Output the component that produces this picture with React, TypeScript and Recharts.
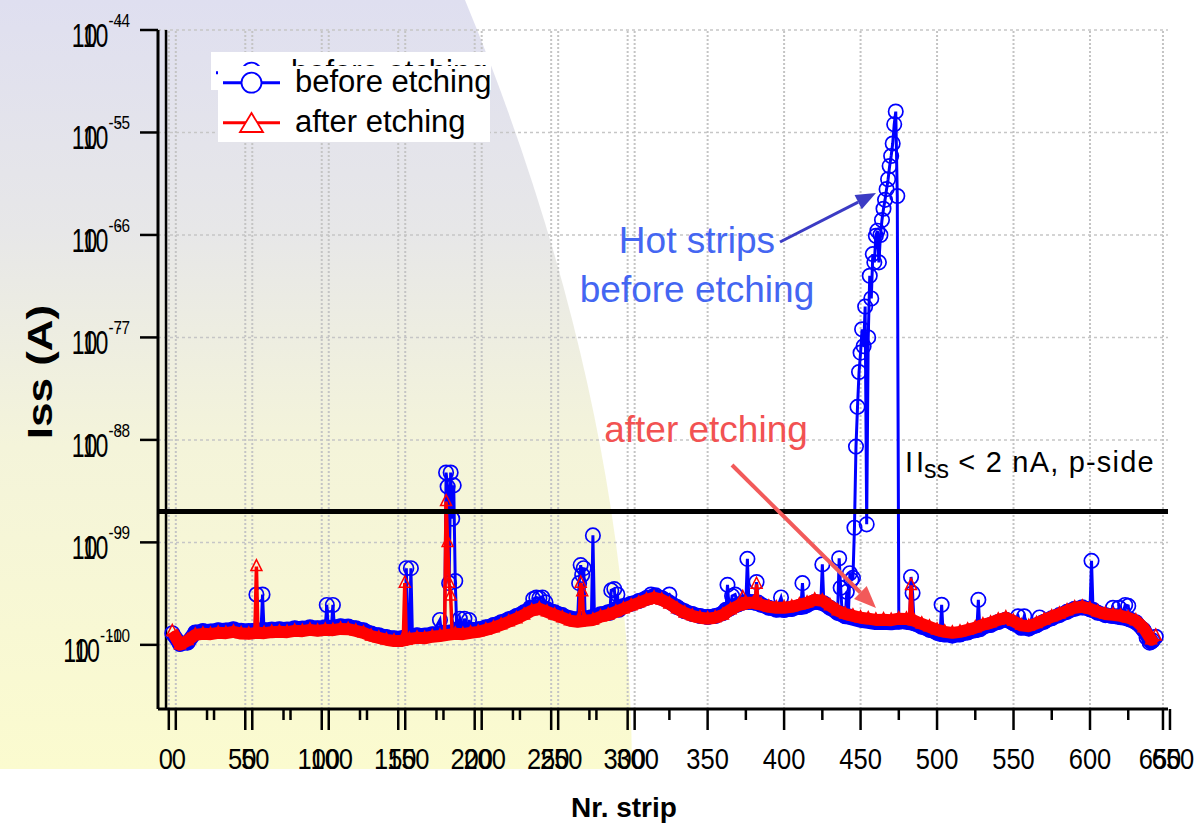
import React from "react";
import { ComposedChart, Line, XAxis, YAxis, CartesianGrid, ReferenceLine } from "recharts";

// ---------- data ----------
const gridStrips = [
  0, 5, 10, 15, 20, 25, 30, 35, 40, 45, 50, 55, 60, 65, 70, 75, 80, 85, 90, 95,
  100, 105, 110, 115, 120, 125, 130, 135, 140, 145, 150, 155, 160, 165, 170, 175, 180, 185, 190, 195,
  200, 205, 210, 215, 220, 225, 230, 235, 240, 245, 250, 255, 260, 265, 270, 275, 280, 285, 290, 295,
  300, 305, 310, 315, 320, 325, 330, 335, 340, 345, 350, 355, 360, 365, 370, 375, 380, 385, 390, 395,
  400, 405, 410, 415, 420, 425, 430, 435, 440, 445, 450, 455, 460, 465, 470, 475, 480, 485, 490, 495,
  500, 505, 510, 515, 520, 525, 530, 535, 540, 545, 550, 555, 560, 565, 570, 575, 580, 585, 590, 595,
  600, 605, 610, 615, 620, 625, 630, 635, 640, 643,
];

// baseline of "after etching" (A)
const afterBase = [
  1.35e-10, 1.0e-10, 1.1e-10, 1.25e-10, 1.28e-10, 1.27e-10, 1.31e-10, 1.3e-10, 1.34e-10, 1.29e-10,
  1.28e-10, 1.31e-10, 1.3e-10, 1.33e-10, 1.34e-10, 1.33e-10, 1.37e-10, 1.36e-10, 1.4e-10, 1.37e-10,
  1.4e-10, 1.39e-10, 1.43e-10, 1.42e-10, 1.37e-10, 1.31e-10, 1.22e-10, 1.17e-10, 1.12e-10, 1.09e-10,
  1.09e-10, 1.14e-10, 1.17e-10, 1.16e-10, 1.2e-10, 1.22e-10, 1.25e-10, 1.28e-10, 1.27e-10, 1.31e-10,
  1.34e-10, 1.4e-10, 1.47e-10, 1.57e-10, 1.68e-10, 1.8e-10, 1.96e-10, 2.15e-10, 2.25e-10, 2.1e-10,
  1.96e-10, 1.84e-10, 1.72e-10, 1.68e-10, 1.72e-10, 1.75e-10, 1.88e-10, 1.96e-10, 2.1e-10, 2.25e-10,
  2.41e-10, 2.57e-10, 2.75e-10, 2.88e-10, 2.75e-10, 2.51e-10, 2.25e-10, 2.05e-10, 1.92e-10, 1.84e-10,
  1.8e-10, 1.84e-10, 1.96e-10, 2.2e-10, 2.41e-10, 2.57e-10, 2.57e-10, 2.46e-10, 2.35e-10, 2.3e-10,
  2.3e-10, 2.35e-10, 2.46e-10, 2.57e-10, 2.75e-10, 2.69e-10, 2.41e-10, 2.15e-10, 2.0e-10, 1.92e-10,
  1.84e-10, 1.8e-10, 1.75e-10, 1.76e-10, 1.74e-10, 1.8e-10, 1.79e-10, 1.72e-10, 1.6e-10, 1.5e-10,
  1.4e-10, 1.34e-10, 1.31e-10, 1.34e-10, 1.4e-10, 1.47e-10, 1.57e-10, 1.64e-10, 1.75e-10, 1.84e-10,
  1.7e-10, 1.55e-10, 1.52e-10, 1.62e-10, 1.75e-10, 1.88e-10, 2.0e-10, 2.15e-10, 2.3e-10, 2.35e-10,
  2.25e-10, 2.1e-10, 2.0e-10, 1.96e-10, 1.92e-10, 1.84e-10, 1.72e-10, 1.47e-10, 1.12e-10, 1.22e-10,
];

// baseline of "before etching" (A)
const beforeBase = [
  1.3e-10, 1.02e-10, 1.05e-10, 1.32e-10, 1.36e-10, 1.35e-10, 1.39e-10, 1.38e-10, 1.42e-10, 1.37e-10,
  1.36e-10, 1.39e-10, 1.38e-10, 1.41e-10, 1.42e-10, 1.41e-10, 1.45e-10, 1.44e-10, 1.48e-10, 1.45e-10,
  1.48e-10, 1.47e-10, 1.52e-10, 1.51e-10, 1.45e-10, 1.39e-10, 1.29e-10, 1.24e-10, 1.19e-10, 1.16e-10,
  1.16e-10, 1.21e-10, 1.24e-10, 1.23e-10, 1.27e-10, 1.29e-10, 1.32e-10, 1.36e-10, 1.35e-10, 1.39e-10,
  1.42e-10, 1.48e-10, 1.56e-10, 1.66e-10, 1.78e-10, 1.91e-10, 2.08e-10, 2.28e-10, 2.38e-10, 2.23e-10,
  2.08e-10, 1.95e-10, 1.82e-10, 1.78e-10, 1.82e-10, 1.86e-10, 1.99e-10, 2.08e-10, 2.23e-10, 2.39e-10,
  2.52e-10, 2.68e-10, 2.87e-10, 3.0e-10, 2.87e-10, 2.62e-10, 2.34e-10, 2.13e-10, 2.0e-10, 1.91e-10,
  1.87e-10, 1.91e-10, 2.04e-10, 2.29e-10, 2.48e-10, 2.62e-10, 2.6e-10, 2.46e-10, 2.3e-10, 2.2e-10,
  2.19e-10, 2.24e-10, 2.34e-10, 2.45e-10, 2.62e-10, 2.56e-10, 2.3e-10, 2.05e-10, 1.9e-10, 1.82e-10,
  1.74e-10, 1.7e-10, 1.65e-10, 1.66e-10, 1.64e-10, 1.68e-10, 1.68e-10, 1.62e-10, 1.5e-10, 1.4e-10,
  1.31e-10, 1.26e-10, 1.23e-10, 1.26e-10, 1.32e-10, 1.39e-10, 1.49e-10, 1.56e-10, 1.67e-10, 1.76e-10,
  1.62e-10, 1.47e-10, 1.44e-10, 1.55e-10, 1.68e-10, 1.82e-10, 1.95e-10, 2.1e-10, 2.25e-10, 2.32e-10,
  2.22e-10, 2.06e-10, 1.95e-10, 1.9e-10, 1.86e-10, 1.78e-10, 1.66e-10, 1.4e-10, 1.07e-10, 1.2e-10,
];

// individual strips of "before etching" (spikes, bumps, hot strips)
const beforeExtraStrips = [
  54, 55, 56, 58, 59, 61,
  100, 101, 102, 104, 105, 106,
  152, 153, 154, 155, 156, 157,
  175, 176, 178, 179, 180, 181, 182, 183, 184, 185, 186, 188, 190, 191, 193, 194, 196,
  234, 236, 238, 240, 242, 244,
  265, 266, 267, 268, 269, 270,
  274, 275, 276,
  286, 287, 289, 291, 292,
  313, 316, 325,
  362, 363, 364, 366, 368,
  375, 376, 377,
  381, 382, 383,
  398,
  411, 412, 413,
  424, 425, 426,
  435, 436, 437, 438, 441, 442, 443, 444, 445,
  446, 447, 448, 449, 450, 451, 452, 453, 454, 455, 456, 457, 458, 459, 460,
  461, 462, 463, 464, 465, 466, 467, 468, 469, 470, 471, 472, 473, 474, 475,
  482, 483, 484, 485,
  502, 503, 504,
  526, 527, 528,
  553, 557, 567,
  600, 601, 602,
  614, 615, 617, 619, 621, 623, 625, 626,
  637, 639, 641,
];
const beforeExtraValues = [
  1.37e-10, 3.1e-10, 1.38e-10, 1.38e-10, 3.1e-10, 1.39e-10,
  1.48e-10, 2.45e-10, 1.47e-10, 1.47e-10, 2.45e-10, 1.48e-10,
  1.18e-10, 5.6e-10, 1.2e-10, 1.21e-10, 5.6e-10, 1.22e-10,
  1.75e-10, 1.3e-10, 1.32e-10, 4.8e-9, 3.5e-9, 4.0e-10, 4.8e-9, 1.7e-9, 3.6e-9, 4.2e-10, 1.4e-10, 1.8e-10, 1.38e-10, 1.8e-10, 1.4e-10, 1.75e-10, 1.4e-10,
  2.3e-10, 2.8e-10, 2.9e-10, 2.85e-10, 2.9e-10, 2.6e-10,
  1.78e-10, 4.0e-10, 6.0e-10, 4.8e-10, 5.6e-10, 1.82e-10,
  1.86e-10, 1.17e-9, 1.87e-10,
  2.05e-10, 3.4e-10, 3.5e-10, 3.1e-10, 2.2e-10,
  3.1e-10, 3.05e-10, 3.1e-10,
  2.2e-10, 3.85e-10, 2.25e-10, 3.0e-10, 3.1e-10,
  2.62e-10, 6.9e-10, 2.63e-10,
  2.6e-10, 4.1e-10, 2.58e-10,
  2.9e-10,
  2.35e-10, 4.0e-10, 2.37e-10,
  2.58e-10, 6.1e-10, 2.55e-10,
  2.05e-10, 7.0e-10, 3.6e-10, 2.0e-10, 3.3e-10, 1.9e-10, 5.0e-10, 4.3e-10, 4.5e-10,
  1.39e-9, 8.6e-9, 2.1e-8, 4.6e-8, 7.1e-8, 1.2e-7, 8.2e-8, 2.0e-7, 1.5e-9, 1.0e-7, 4.0e-7, 2.4e-7, 6.5e-7, 5.4e-7, 9.8e-7,
  1.1e-6, 5.4e-7, 1.0e-6, 1.4e-6, 1.8e-6, 2.2e-6, 2.8e-6, 3.5e-6, 4.7e-6, 5.9e-6, 7.8e-6, 1.2e-5, 1.6e-5, 2.4e-6, 1.68e-10,
  1.66e-10, 4.6e-10, 3.2e-10, 1.62e-10,
  1.28e-10, 2.46e-10, 1.27e-10,
  1.4e-10, 2.75e-10, 1.42e-10,
  1.9e-10, 1.9e-10, 1.85e-10,
  2.22e-10, 6.6e-10, 2.2e-10,
  1.92e-10, 2.3e-10, 1.9e-10, 2.3e-10, 1.87e-10, 2.45e-10, 2.4e-10, 1.78e-10,
  1.18e-10, 1.05e-10, 1.1e-10,
];

// individual strips of "after etching"
const afterExtraStrips = [54, 55, 56, 151, 152, 153, 178, 179, 180, 181, 182, 183, 266, 267, 268, 269, 372, 373, 374, 381, 382, 383, 482, 483, 484];
const afterExtraValues = [
  1.31e-10, 5.8e-10, 1.31e-10, 1.1e-10, 4.0e-10, 1.11e-10, 1.24e-10, 2.5e-9, 1.0e-9, 4.0e-10, 3.0e-10, 1.26e-10,
  1.68e-10, 4.0e-10, 3.3e-10, 1.7e-10, 2.45e-10, 2.9e-10, 2.5e-10, 2.57e-10, 3.9e-10, 2.56e-10, 1.79e-10, 3.8e-10, 1.78e-10,
];

const xTicks = [0, 25, 50, 75, 100, 125, 150, 175, 200, 225, 250, 275, 300, 325, 350, 375, 400, 425, 450, 475, 500, 525, 550, 575, 600, 625, 650];
const xGrid = [0, 50, 100, 150, 200, 250, 300, 350, 400, 450, 500, 550, 600, 650];
const yTicks = [1e-10, 1e-9, 1e-8, 1e-7, 1e-6, 1e-5, 1e-4];
const threshold = 2e-9;

// ---------- build series ----------
function merge(bs: number[], bv: number[], es: number[], ev: number[]) {
  const m = new Map<number, number>();
  bs.forEach((s, i) => m.set(s, bv[i]));
  es.forEach((s, i) => m.set(s, ev[i]));
  return Array.from(m.entries())
    .sort((a, b) => a[0] - b[0])
    .map(([s, v]) => ({ s, v }));
}
const beforeData = merge(gridStrips, beforeBase, beforeExtraStrips, beforeExtraValues);
const afterData = merge(gridStrips, afterBase, afterExtraStrips, afterExtraValues);
const beforeBand = gridStrips.map((s, i) => ({ s, v: beforeBase[i] }));
const afterBand = gridStrips.map((s, i) => ({ s, v: afterBase[i] }));

const FONT = "'Liberation Sans', Arial, Helvetica, sans-serif";

const CircleDot = (p: any) => {
  if (p.cx == null || p.cy == null) return <g key={p.index} />;
  return <circle key={p.index} cx={p.cx} cy={p.cy} r={7.2} fill="none" stroke="#0000ff" strokeWidth={1.7} />;
};
const TriangleDot = (p: any) => {
  if (p.cx == null || p.cy == null) return <g key={p.index} />;
  const { cx, cy } = p;
  return (
    <path key={p.index} d={`M${cx},${cy - 7} L${cx + 5.5},${cy + 4} L${cx - 5.5},${cy + 4} Z`} fill="none" stroke="#ff0000" strokeWidth={1.5} />
  );
};

const XTick = (props: any) => {
  const { x, y, payload } = props;
  const v = payload.value as number;
  const major = v % 50 === 0;
  const len = major ? 21 : 11;
  const doubled = v <= 300 || v === 650;
  const tickOffs = doubled ? [-3.5, 3.5] : [0];
  const labelOffs = doubled ? [-6.5, 6.5] : [0];
  return (
    <g>
      {tickOffs.map((o) => (
        <line key={"l" + o} x1={x + o} x2={x + o} y1={y} y2={y + len} stroke="#000" strokeWidth={2.5} />
      ))}
      {major &&
        labelOffs.map((o) => (
          <g key={"t" + o} transform={`translate(${x + o},${y + 60}) scale(0.85,1)`}>
            <text x={0} y={0} textAnchor="middle" fontSize={30} fontFamily={FONT} fill="#000">
              {v}
            </text>
          </g>
        ))}
    </g>
  );
};

const YTick = (props: any) => {
  const { x, y, payload } = props;
  const e = String(Math.round(Math.log10(payload.value)));
  const supW = (0.333 + 0.556 * (e.length - 1)) * 18 * 0.85;
  const bigB = 130 - supW - 8;
  const big = [bigB - 11, bigB];
  const sup = [122, 130];
  return (
    <g>
      <line x1={140} x2={x} y1={y} y2={y} stroke="#000" strokeWidth={2.5} />
      {big.map((bx) => (
        <g key={"b" + bx} transform={`translate(${bx},${y + 17}) scale(0.7,1)`}>
          <text x={0} y={0} textAnchor="end" fontSize={33} fontFamily={FONT} fill="#000">10</text>
        </g>
      ))}
      {sup.map((sx) => (
        <g key={"s" + sx} transform={`translate(${sx},${y - 3}) scale(0.85,1)`}>
          <text x={0} y={0} textAnchor="end" fontSize={18} fontFamily={FONT} fill="#000">{e}</text>
        </g>
      ))}
    </g>
  );
};

function arrowHead(x1: number, y1: number, x2: number, y2: number, len: number, hw: number) {
  const dx = x2 - x1;
  const dy = y2 - y1;
  const d = Math.hypot(dx, dy);
  const ux = dx / d;
  const uy = dy / d;
  const bx = x2 - ux * len;
  const by = y2 - uy * len;
  const px = -uy * hw;
  const py = ux * hw;
  return { bx, by, pts: `${x2},${y2} ${bx + px},${by + py} ${bx - px},${by - py}` };
}

export default function App() {
  const blueArrow = arrowHead(780, 242, 876, 193, 20, 8);
  const redArrow = arrowHead(732, 465, 876, 608, 22, 9);
  const gridPx = 3.5 / 1.5295;
  return (
    <div style={{ position: "absolute", left: 0, top: 0, width: 1194, height: 825, background: "#fff", overflow: "hidden", fontFamily: FONT }}>
      <svg width={1194} height={825} style={{ position: "absolute", left: 0, top: 0 }}>
        <defs>
          <linearGradient id="bgGrad" x1="0" y1="0" x2="0" y2="1">
            <stop offset="0%" stopColor="#dfdff0" />
            <stop offset="30%" stopColor="#e7e7e8" />
            <stop offset="58%" stopColor="#f4f4da" />
            <stop offset="100%" stopColor="#fbfbcf" />
          </linearGradient>
        </defs>
        <path d="M0,0 L465,0 Q630,400 632,769 L0,769 Z" fill="url(#bgGrad)" />
      </svg>

      <div style={{ position: "absolute", left: 0, top: 0 }}>
        <ComposedChart width={1194} height={825} margin={{ top: 30, right: 26, bottom: 0, left: 0 }}>
          <CartesianGrid vertical={false} stroke="#c6c6c6" strokeWidth={1.5} strokeDasharray="3 3" />
          {xGrid.map((g) =>
            g <= 300 || g === 650 ? (
              <React.Fragment key={g}>
                <ReferenceLine x={g - gridPx} stroke="#c4c4c4" strokeWidth={2} strokeDasharray="2 2" zIndex={-90} />
                <ReferenceLine x={g + gridPx} stroke="#c4c4c4" strokeWidth={2} strokeDasharray="2 2" zIndex={-90} />
              </React.Fragment>
            ) : (
              <ReferenceLine key={g} x={g} stroke="#c4c4c4" strokeWidth={2} strokeDasharray="2 2" zIndex={-90} />
            )
          )}
          <ReferenceLine x={-4.1} stroke="#000" strokeWidth={2.5} />
          <XAxis
            dataKey="s"
            type="number"
            domain={[-9.35, 651]}
            ticks={xTicks}
            interval={0}
            tick={XTick}
            tickSize={0}
            tickMargin={0}
            tickLine={false}
            axisLine={{ stroke: "#000", strokeWidth: 3 }}
            height={116}
            allowDataOverflow
          />
          <YAxis
            type="number"
            scale="log"
            domain={[2.366e-11, 1e-4]}
            ticks={yTicks}
            interval={0}
            tick={YTick}
            tickSize={0}
            tickMargin={0}
            tickLine={false}
            axisLine={{ stroke: "#000", strokeWidth: 3 }}
            width={158}
            allowDataOverflow
          />
          <Line data={beforeBand} dataKey="v" type="linear" stroke="#0000ff" strokeWidth={15} strokeLinejoin="round" dot={false} isAnimationActive={false} zIndex={300} />
          <Line data={beforeData} dataKey="v" type="linear" stroke="#0000ff" strokeWidth={3} dot={CircleDot} isAnimationActive={false} zIndex={400} />
          <Line data={afterBand} dataKey="v" type="linear" stroke="#ff0000" strokeWidth={12} strokeLinejoin="round" dot={false} isAnimationActive={false} zIndex={1300} />
          <Line data={afterData} dataKey="v" type="linear" stroke="#ff0000" strokeWidth={3.5} dot={TriangleDot} isAnimationActive={false} zIndex={1400} />
          <ReferenceLine y={threshold} stroke="#000" strokeWidth={5} zIndex={1500} />
        </ComposedChart>
      </div>

      <svg width={1194} height={825} style={{ position: "absolute", left: 0, top: 0, pointerEvents: "none" }} fontFamily={FONT}>
        {/* legend */}
        <rect x={211} y={52} width={280} height={38} fill="#fff" />
        <line x1={216} x2={280} y1={72.7} y2={72.7} stroke="#0000ff" strokeWidth={3} />
        <circle cx={251.5} cy={72.7} r={10} fill="#fff" stroke="#0000ff" strokeWidth={1.8} />
        <text x={291} y={82} fontSize={31} fill="#000">before etching</text>
        <rect x={218} y={66} width={272} height={76} fill="#fff" />
        <line x1={223} x2={280} y1={82.7} y2={82.7} stroke="#0000ff" strokeWidth={3} />
        <circle cx={251.5} cy={82.7} r={10} fill="#fff" stroke="#0000ff" strokeWidth={1.8} />
        <text x={295} y={92} fontSize={31} fill="#000">before etching</text>
        <line x1={223} x2={280} y1={122.7} y2={122.7} stroke="#ff0000" strokeWidth={3} />
        <path d="M251.5,113 L263,132 L240,132 Z" fill="#fff" stroke="#ff0000" strokeWidth={1.8} />
        <text x={295} y={132} fontSize={31} fill="#000">after etching</text>

        {/* annotations */}
        <text x={697} y={253} textAnchor="middle" fontSize={37} fill="#4466f2">Hot strips</text>
        <text x={697} y={302} textAnchor="middle" fontSize={37} fill="#4466f2">before etching</text>
        <line x1={780} y1={242} x2={blueArrow.bx} y2={blueArrow.by} stroke="#3b3bc4" strokeWidth={3} />
        <polygon points={blueArrow.pts} fill="#3b3bc4" />

        <text x={706} y={442} textAnchor="middle" fontSize={37} fill="#f25252">after etching</text>
        <line x1={732} y1={465} x2={redArrow.bx} y2={redArrow.by} stroke="#f25a5a" strokeWidth={4} />
        <polygon points={redArrow.pts} fill="#f25a5a" />

        <text x={905} y={472} fontSize={29} fill="#000">I</text>
        <text x={916} y={472} fontSize={29} fill="#000">
          I<tspan fontSize={25} dy={6}>ss</tspan>
          <tspan dy={-6} letterSpacing={1.2}> &lt; 2 nA, p-side</tspan>
        </text>

        {/* axis titles */}
        <text x={624} y={817} textAnchor="middle" fontSize={28} fontWeight="bold" fill="#000">Nr. strip</text>
        <text transform="translate(52,372) scale(0.78,1) rotate(-90)" textAnchor="middle" fontSize={44} fontWeight="bold" fill="#000">Iss (A)</text>
      </svg>
    </div>
  );
}
